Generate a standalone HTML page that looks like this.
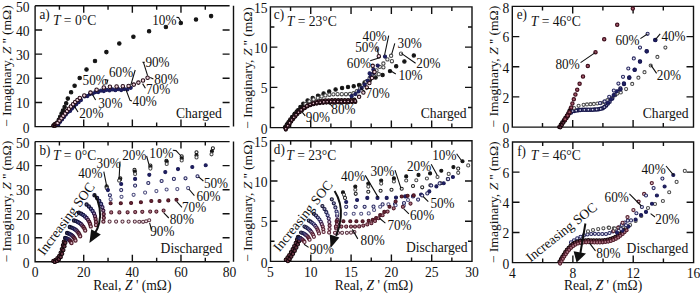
<!DOCTYPE html>
<html><head><meta charset="utf-8"><style>
html,body{margin:0;padding:0;background:#fff;}
svg{display:block;}
text{font-family:"Liberation Serif", serif;font-size:13.6px;fill:#111;}
text.s{font-size:13.2px;}
text.c{font-size:13.6px;}
</style></head><body>
<svg width="700" height="293" viewBox="0 0 700 293">
<rect width="700" height="293" fill="#fff"/>
<path d="M35.10,5.80H229.60M35.10,5.80V126.60H229.60M233.50,5.80V126.60M59.41,126.60v-4M59.41,5.80v4M83.72,126.60v-7M83.72,5.80v7M108.04,126.60v-4M108.04,5.80v4M132.35,126.60v-7M132.35,5.80v7M156.66,126.60v-4M156.66,5.80v4M180.97,126.60v-7M180.97,5.80v7M205.29,126.60v-4M205.29,5.80v4M35.10,102.44h7M229.60,102.44h-7M35.10,78.28h7M229.60,78.28h-7M35.10,54.12h7M229.60,54.12h-7M35.10,29.96h7M229.60,29.96h-7" fill="none" stroke="#111" stroke-width="1.4"/>
<text transform="translate(29.60,132.70) scale(1,1.08)" text-anchor="end">0</text>
<text transform="translate(29.60,108.24) scale(1,1.08)" text-anchor="end">10</text>
<text transform="translate(29.60,84.08) scale(1,1.08)" text-anchor="end">20</text>
<text transform="translate(29.60,59.92) scale(1,1.08)" text-anchor="end">30</text>
<text transform="translate(29.60,35.76) scale(1,1.08)" text-anchor="end">40</text>
<text transform="translate(29.60,12.10) scale(1,1.08)" text-anchor="end">50</text>
<text transform="translate(11.30,66.20) rotate(-90) scale(1,0.93)" text-anchor="middle">&#8722; Imaginary, <tspan font-style="italic">Z</tspan> '' (m&#937;)</text>
<path d="M35.10,141.60H229.60M35.10,141.60V261.80H229.60M233.50,141.60V261.80M59.41,261.80v-4M59.41,141.60v4M83.72,261.80v-7M83.72,141.60v7M108.04,261.80v-4M108.04,141.60v4M132.35,261.80v-7M132.35,141.60v7M156.66,261.80v-4M156.66,141.60v4M180.97,261.80v-7M180.97,141.60v7M205.29,261.80v-4M205.29,141.60v4M35.10,237.76h7M229.60,237.76h-7M35.10,213.72h7M229.60,213.72h-7M35.10,189.68h7M229.60,189.68h-7M35.10,165.64h7M229.60,165.64h-7" fill="none" stroke="#111" stroke-width="1.4"/>
<text transform="translate(29.60,267.90) scale(1,1.08)" text-anchor="end">0</text>
<text transform="translate(29.60,243.56) scale(1,1.08)" text-anchor="end">10</text>
<text transform="translate(29.60,219.52) scale(1,1.08)" text-anchor="end">20</text>
<text transform="translate(29.60,195.48) scale(1,1.08)" text-anchor="end">30</text>
<text transform="translate(29.60,171.44) scale(1,1.08)" text-anchor="end">40</text>
<text transform="translate(29.60,147.90) scale(1,1.08)" text-anchor="end">50</text>
<text transform="translate(35.10,277.00) scale(1,1.08)" text-anchor="middle">0</text>
<text transform="translate(83.72,277.00) scale(1,1.08)" text-anchor="middle">20</text>
<text transform="translate(132.35,277.00) scale(1,1.08)" text-anchor="middle">40</text>
<text transform="translate(180.97,277.00) scale(1,1.08)" text-anchor="middle">60</text>
<text transform="translate(229.60,277.00) scale(1,1.08)" text-anchor="middle">80</text>
<text x="132.35" y="289.5" text-anchor="middle">Real, <tspan font-style="italic">Z</tspan> ' (m&#937;)</text>
<text transform="translate(11.30,201.70) rotate(-90) scale(1,0.93)" text-anchor="middle">&#8722; Imaginary, <tspan font-style="italic">Z</tspan> '' (m&#937;)</text>
<path d="M270.40,6.90H472.00V127.60H270.40ZM290.56,127.60v-4M290.56,6.90v4M310.72,127.60v-7M310.72,6.90v7M330.88,127.60v-4M330.88,6.90v4M351.04,127.60v-7M351.04,6.90v7M371.20,127.60v-4M371.20,6.90v4M391.36,127.60v-7M391.36,6.90v7M411.52,127.60v-4M411.52,6.90v4M431.68,127.60v-7M431.68,6.90v7M451.84,127.60v-4M451.84,6.90v4M270.40,107.48h4M472.00,107.48h-4M270.40,87.37h7M472.00,87.37h-7M270.40,67.25h4M472.00,67.25h-4M270.40,47.13h7M472.00,47.13h-7M270.40,27.02h4M472.00,27.02h-4" fill="none" stroke="#111" stroke-width="1.4"/>
<text transform="translate(267.60,133.70) scale(1,1.08)" text-anchor="end">0</text>
<text transform="translate(267.60,93.17) scale(1,1.08)" text-anchor="end">5</text>
<text transform="translate(267.60,52.93) scale(1,1.08)" text-anchor="end">10</text>
<text transform="translate(267.60,13.20) scale(1,1.08)" text-anchor="end">15</text>
<text transform="translate(251.50,68.05) rotate(-90) scale(1,0.93)" text-anchor="middle">&#8722; Imaginary, <tspan font-style="italic">Z</tspan> '' (m&#937;)</text>
<path d="M270.50,140.80H472.00V261.40H270.50ZM290.65,261.40v-4M290.65,140.80v4M310.80,261.40v-7M310.80,140.80v7M330.95,261.40v-4M330.95,140.80v4M351.10,261.40v-7M351.10,140.80v7M371.25,261.40v-4M371.25,140.80v4M391.40,261.40v-7M391.40,140.80v7M411.55,261.40v-4M411.55,140.80v4M431.70,261.40v-7M431.70,140.80v7M451.85,261.40v-4M451.85,140.80v4M270.50,241.30h4M472.00,241.30h-4M270.50,221.20h7M472.00,221.20h-7M270.50,201.10h4M472.00,201.10h-4M270.50,181.00h7M472.00,181.00h-7M270.50,160.90h4M472.00,160.90h-4" fill="none" stroke="#111" stroke-width="1.4"/>
<text transform="translate(267.60,267.50) scale(1,1.08)" text-anchor="end">0</text>
<text transform="translate(267.60,227.00) scale(1,1.08)" text-anchor="end">5</text>
<text transform="translate(267.60,186.80) scale(1,1.08)" text-anchor="end">10</text>
<text transform="translate(267.60,147.10) scale(1,1.08)" text-anchor="end">15</text>
<text transform="translate(270.50,276.60) scale(1,1.08)" text-anchor="middle">5</text>
<text transform="translate(310.80,276.60) scale(1,1.08)" text-anchor="middle">10</text>
<text transform="translate(351.10,276.60) scale(1,1.08)" text-anchor="middle">15</text>
<text transform="translate(391.40,276.60) scale(1,1.08)" text-anchor="middle">20</text>
<text transform="translate(431.70,276.60) scale(1,1.08)" text-anchor="middle">25</text>
<text transform="translate(472.00,276.60) scale(1,1.08)" text-anchor="middle">30</text>
<text x="373.85" y="289.5" text-anchor="middle">Real, <tspan font-style="italic">Z</tspan> ' (m&#937;)</text>
<text transform="translate(251.50,201.10) rotate(-90) scale(1,0.93)" text-anchor="middle">&#8722; Imaginary, <tspan font-style="italic">Z</tspan> '' (m&#937;)</text>
<path d="M512.30,6.40H693.50V127.10H512.30ZM542.50,127.10v-4M542.50,6.40v4M572.70,127.10v-7M572.70,6.40v7M602.90,127.10v-4M602.90,6.40v4M633.10,127.10v-7M633.10,6.40v7M663.30,127.10v-4M663.30,6.40v4M512.30,96.92h7M693.50,96.92h-7M512.30,66.75h7M693.50,66.75h-7M512.30,36.58h7M693.50,36.58h-7" fill="none" stroke="#111" stroke-width="1.4"/>
<text transform="translate(509.40,133.20) scale(1,1.08)" text-anchor="end">0</text>
<text transform="translate(509.40,102.72) scale(1,1.08)" text-anchor="end">2</text>
<text transform="translate(509.40,72.55) scale(1,1.08)" text-anchor="end">4</text>
<text transform="translate(509.40,42.38) scale(1,1.08)" text-anchor="end">6</text>
<text transform="translate(509.40,12.70) scale(1,1.08)" text-anchor="end">8</text>
<text transform="translate(497.70,66.75) rotate(-90) scale(1,0.93)" text-anchor="middle">&#8722; Imaginary, <tspan font-style="italic">Z</tspan> '' (m&#937;)</text>
<path d="M512.50,142.00H693.60V262.60H512.50ZM542.68,262.60v-4M542.68,142.00v4M572.87,262.60v-7M572.87,142.00v7M603.05,262.60v-4M603.05,142.00v4M633.23,262.60v-7M633.23,142.00v7M663.42,262.60v-4M663.42,142.00v4M512.50,232.45h7M693.60,232.45h-7M512.50,202.30h7M693.60,202.30h-7M512.50,172.15h7M693.60,172.15h-7" fill="none" stroke="#111" stroke-width="1.4"/>
<text transform="translate(509.40,268.70) scale(1,1.08)" text-anchor="end">0</text>
<text transform="translate(509.40,238.25) scale(1,1.08)" text-anchor="end">2</text>
<text transform="translate(509.40,208.10) scale(1,1.08)" text-anchor="end">4</text>
<text transform="translate(509.40,177.95) scale(1,1.08)" text-anchor="end">6</text>
<text transform="translate(509.40,148.30) scale(1,1.08)" text-anchor="end">8</text>
<text transform="translate(512.50,277.80) scale(1,1.08)" text-anchor="middle">4</text>
<text transform="translate(572.87,277.80) scale(1,1.08)" text-anchor="middle">8</text>
<text transform="translate(633.23,277.80) scale(1,1.08)" text-anchor="middle">12</text>
<text transform="translate(693.60,277.80) scale(1,1.08)" text-anchor="middle">16</text>
<text x="603.05" y="289.5" text-anchor="middle">Real, <tspan font-style="italic">Z</tspan> ' (m&#937;)</text>
<text transform="translate(497.70,202.30) rotate(-90) scale(1,0.93)" text-anchor="middle">&#8722; Imaginary, <tspan font-style="italic">Z</tspan> '' (m&#937;)</text>
<g fill="#141414" stroke="#141414" stroke-width="1.05"><circle cx="53.6" cy="125.4" r="1.75"/><circle cx="55.8" cy="124.6" r="1.75"/><circle cx="57.4" cy="122.6" r="1.75"/><circle cx="58.8" cy="119.8" r="1.75"/><circle cx="60.2" cy="116.8" r="1.75"/><circle cx="61.6" cy="113.6" r="1.75"/><circle cx="63.0" cy="110.4" r="1.75"/><circle cx="64.6" cy="107.0" r="1.75"/><circle cx="66.2" cy="103.2" r="1.75"/><circle cx="67.8" cy="98.6" r="1.75"/><circle cx="71.1" cy="92.2" r="1.75"/><circle cx="74.6" cy="85.7" r="1.75"/><circle cx="79.7" cy="78.0" r="1.75"/><circle cx="86.5" cy="69.5" r="1.75"/><circle cx="95.0" cy="61.0" r="1.75"/><circle cx="106.4" cy="52.1" r="1.75"/><circle cx="119.3" cy="43.5" r="1.75"/><circle cx="133.4" cy="36.7" r="1.75"/><circle cx="149.1" cy="31.2" r="1.75"/><circle cx="165.9" cy="26.9" r="1.75"/><circle cx="180.8" cy="23.0" r="1.75"/><circle cx="196.0" cy="19.5" r="1.75"/><circle cx="211.1" cy="16.1" r="1.75"/></g>
<g fill="#6a3444" stroke="#120408" stroke-width="1.05"><circle cx="53.4" cy="125.6" r="1.6"/><circle cx="55.0" cy="125.8" r="1.6"/><circle cx="56.6" cy="125.0" r="1.6"/><circle cx="54.6" cy="124.0" r="1.6"/><circle cx="56.2" cy="123.4" r="1.6"/></g>
<g fill="#1f1f66" stroke="#1a1a55" stroke-width="1.05"><circle cx="58.2" cy="124.2" r="1.6"/><circle cx="60.1" cy="121.8" r="1.6"/><circle cx="62.0" cy="119.4" r="1.6"/><circle cx="63.9" cy="117.0" r="1.6"/><circle cx="65.8" cy="114.6" r="1.6"/><circle cx="67.7" cy="112.3" r="1.6"/><circle cx="69.6" cy="109.9" r="1.6"/><circle cx="71.5" cy="107.6" r="1.6"/><circle cx="73.7" cy="105.4" r="1.6"/><circle cx="75.8" cy="103.2" r="1.6"/><circle cx="78.1" cy="101.2" r="1.6"/><circle cx="80.4" cy="99.2" r="1.6"/><circle cx="84.6" cy="96.4" r="1.6"/><circle cx="90.0" cy="94.0" r="1.6"/><circle cx="95.4" cy="92.0" r="1.6"/><circle cx="101.0" cy="90.6" r="1.6"/><circle cx="106.6" cy="89.8" r="1.6"/><circle cx="112.4" cy="89.4" r="1.6"/><circle cx="118.2" cy="89.2" r="1.6"/><circle cx="124.2" cy="89.0" r="1.6"/><circle cx="130.7" cy="87.8" r="1.6"/></g>
<g fill="#1f1f66" stroke="#1a1a55" stroke-width="1.05"><circle cx="70.0" cy="110.9" r="1.6"/><circle cx="71.9" cy="108.6" r="1.6"/><circle cx="74.1" cy="106.4" r="1.6"/><circle cx="76.2" cy="104.2" r="1.6"/><circle cx="78.5" cy="102.2" r="1.6"/><circle cx="80.8" cy="100.2" r="1.6"/><circle cx="87.4" cy="96.0" r="1.6"/><circle cx="92.8" cy="93.6" r="1.6"/><circle cx="98.2" cy="92.0" r="1.6"/><circle cx="103.8" cy="91.0" r="1.6"/><circle cx="109.5" cy="90.4" r="1.6"/><circle cx="115.3" cy="90.2" r="1.6"/><circle cx="121.2" cy="90.0" r="1.6"/><circle cx="127.4" cy="89.4" r="1.6"/></g>
<g fill="#f0d4de" stroke="#220a14" stroke-width="1.05"><circle cx="57.6" cy="123.0" r="1.75"/><circle cx="59.5" cy="120.6" r="1.75"/><circle cx="61.4" cy="118.2" r="1.75"/><circle cx="63.3" cy="115.8" r="1.75"/><circle cx="65.2" cy="113.4" r="1.75"/><circle cx="67.1" cy="111.1" r="1.75"/><circle cx="69.0" cy="108.7" r="1.75"/><circle cx="70.9" cy="106.4" r="1.75"/><circle cx="73.1" cy="104.2" r="1.75"/><circle cx="75.2" cy="102.0" r="1.75"/><circle cx="77.5" cy="100.0" r="1.75"/><circle cx="79.8" cy="98.0" r="1.75"/><circle cx="84.3" cy="95.4" r="1.75"/><circle cx="90.5" cy="92.6" r="1.75"/><circle cx="96.6" cy="89.8" r="1.75"/><circle cx="103.8" cy="87.4" r="1.75"/><circle cx="109.9" cy="86.8" r="1.75"/><circle cx="116.6" cy="86.4" r="1.75"/><circle cx="122.8" cy="86.2" r="1.75"/><circle cx="128.6" cy="86.0" r="1.75"/><circle cx="133.8" cy="84.6" r="1.75"/><circle cx="138.4" cy="82.6" r="1.75"/><circle cx="143.0" cy="80.4" r="1.75"/><circle cx="147.6" cy="77.8" r="1.75"/></g>
<g fill="#6a3444" stroke="#120408" stroke-width="1.05"><circle cx="284.9" cy="127.3" r="1.6"/><circle cx="286.7" cy="124.6" r="1.6"/><circle cx="288.5" cy="122.0" r="1.6"/><circle cx="290.3" cy="119.3" r="1.6"/><circle cx="292.3" cy="116.8" r="1.6"/><circle cx="294.4" cy="114.3" r="1.6"/><circle cx="296.5" cy="111.9" r="1.6"/><circle cx="298.9" cy="109.8" r="1.6"/><circle cx="301.4" cy="107.7" r="1.6"/><circle cx="304.0" cy="105.9" r="1.6"/><circle cx="306.7" cy="104.1" r="1.6"/><circle cx="309.7" cy="102.9" r="1.6"/><circle cx="312.7" cy="102.0" r="1.6"/><circle cx="315.9" cy="101.4" r="1.6"/><circle cx="319.1" cy="100.8" r="1.6"/><circle cx="322.3" cy="100.6" r="1.6"/><circle cx="325.5" cy="100.3" r="1.6"/><circle cx="328.7" cy="100.3" r="1.6"/><circle cx="331.9" cy="100.2" r="1.6"/><circle cx="335.1" cy="100.2" r="1.6"/><circle cx="338.3" cy="100.2" r="1.6"/><circle cx="341.5" cy="100.2" r="1.6"/><circle cx="344.8" cy="100.1" r="1.6"/><circle cx="348.0" cy="100.0" r="1.6"/><circle cx="351.2" cy="99.9" r="1.6"/><circle cx="354.4" cy="99.7" r="1.6"/></g>
<g fill="#6a3444" stroke="#120408" stroke-width="1.05"><circle cx="285.8" cy="129.5" r="1.6"/><circle cx="287.6" cy="126.8" r="1.6"/><circle cx="289.4" cy="124.2" r="1.6"/><circle cx="291.2" cy="121.5" r="1.6"/><circle cx="293.2" cy="119.0" r="1.6"/><circle cx="295.3" cy="116.5" r="1.6"/><circle cx="297.4" cy="114.1" r="1.6"/><circle cx="299.8" cy="112.0" r="1.6"/><circle cx="302.3" cy="109.9" r="1.6"/><circle cx="304.9" cy="108.1" r="1.6"/><circle cx="307.6" cy="106.3" r="1.6"/><circle cx="310.6" cy="105.1" r="1.6"/><circle cx="313.6" cy="104.2" r="1.6"/><circle cx="316.8" cy="103.6" r="1.6"/><circle cx="320.0" cy="103.0" r="1.6"/><circle cx="323.2" cy="102.8" r="1.6"/><circle cx="326.4" cy="102.5" r="1.6"/><circle cx="329.6" cy="102.5" r="1.6"/><circle cx="332.8" cy="102.4" r="1.6"/><circle cx="336.0" cy="102.4" r="1.6"/><circle cx="339.2" cy="102.4" r="1.6"/><circle cx="342.4" cy="102.4" r="1.6"/><circle cx="345.7" cy="102.3" r="1.6"/><circle cx="348.9" cy="102.2" r="1.6"/><circle cx="352.1" cy="102.1" r="1.6"/><circle cx="355.3" cy="101.9" r="1.6"/></g>
<g fill="#141414" stroke="#141414" stroke-width="1.05"><circle cx="285.6" cy="126.6" r="1.7"/><circle cx="287.6" cy="123.8" r="1.7"/><circle cx="289.8" cy="120.6" r="1.7"/><circle cx="292.2" cy="117.2" r="1.7"/><circle cx="294.8" cy="113.8" r="1.7"/><circle cx="297.6" cy="110.4" r="1.7"/><circle cx="300.4" cy="107.0" r="1.7"/><circle cx="303.3" cy="103.8" r="1.7"/><circle cx="307.6" cy="100.4" r="1.7"/><circle cx="312.7" cy="97.9" r="1.7"/><circle cx="318.0" cy="95.8" r="1.7"/><circle cx="323.6" cy="93.4" r="1.7"/><circle cx="329.2" cy="91.4" r="1.7"/><circle cx="335.6" cy="89.4" r="1.7"/><circle cx="342.1" cy="87.9" r="1.7"/><circle cx="348.0" cy="86.9" r="1.7"/><circle cx="353.7" cy="86.2" r="1.7"/><circle cx="359.1" cy="85.0" r="1.7"/><circle cx="364.6" cy="82.4" r="1.7"/><circle cx="369.9" cy="80.0" r="1.7"/><circle cx="375.6" cy="77.4" r="1.7"/><circle cx="382.6" cy="75.0" r="1.7"/><circle cx="390.0" cy="71.1" r="1.7"/><circle cx="396.2" cy="66.2" r="1.7"/><circle cx="404.4" cy="61.4" r="1.7"/><circle cx="413.8" cy="55.4" r="1.7"/></g>
<g fill="#ffffff" stroke="#4a4a4a" stroke-width="1.05"><circle cx="305.4" cy="104.0" r="1.65"/><circle cx="309.4" cy="101.4" r="1.65"/><circle cx="313.6" cy="99.4" r="1.65"/><circle cx="317.8" cy="97.8" r="1.65"/><circle cx="321.6" cy="96.4" r="1.65"/><circle cx="325.4" cy="95.4" r="1.65"/><circle cx="329.4" cy="94.7" r="1.65"/><circle cx="333.4" cy="94.3" r="1.65"/><circle cx="337.6" cy="94.2" r="1.65"/><circle cx="341.8" cy="94.2" r="1.65"/><circle cx="346.0" cy="94.2" r="1.65"/><circle cx="350.0" cy="94.0" r="1.65"/><circle cx="353.6" cy="93.2" r="1.65"/><circle cx="356.8" cy="91.2" r="1.65"/><circle cx="360.0" cy="88.4" r="1.65"/><circle cx="363.2" cy="85.2" r="1.65"/><circle cx="366.6" cy="81.4" r="1.65"/><circle cx="370.4" cy="77.8" r="1.65"/><circle cx="374.4" cy="74.4" r="1.65"/><circle cx="378.8" cy="74.2" r="1.65"/><circle cx="383.4" cy="67.3" r="1.65"/><circle cx="391.9" cy="61.2" r="1.65"/><circle cx="401.0" cy="53.7" r="1.65"/></g>
<g fill="#ffffff" stroke="#4a4a4a" stroke-width="1.05"><circle cx="366.0" cy="81.8" r="1.65"/><circle cx="369.6" cy="78.2" r="1.65"/><circle cx="373.0" cy="73.6" r="1.65"/><circle cx="376.5" cy="70.4" r="1.65"/><circle cx="379.8" cy="66.8" r="1.65"/><circle cx="383.4" cy="63.5" r="1.65"/><circle cx="387.4" cy="59.4" r="1.65"/><circle cx="391.1" cy="55.8" r="1.65"/></g>
<g fill="#1f1f66" stroke="#1a1a55" stroke-width="1.05"><circle cx="351.6" cy="96.2" r="1.6"/><circle cx="355.4" cy="94.0" r="1.6"/><circle cx="358.6" cy="91.4" r="1.6"/><circle cx="361.6" cy="88.2" r="1.6"/><circle cx="364.6" cy="84.6" r="1.6"/><circle cx="367.6" cy="80.8" r="1.6"/><circle cx="370.6" cy="76.8" r="1.6"/><circle cx="373.8" cy="72.8" r="1.6"/><circle cx="377.7" cy="65.5" r="1.6"/><circle cx="385.0" cy="56.6" r="1.6"/></g>
<g fill="#1f1f66" stroke="#1a1a55" stroke-width="1.05"><circle cx="369.6" cy="73.4" r="1.6"/><circle cx="373.4" cy="69.4" r="1.6"/></g>
<g fill="#ecc4d2" stroke="#1e0810" stroke-width="1.3"><circle cx="285.7" cy="128.7" r="1.45"/><circle cx="287.7" cy="125.8" r="1.45"/><circle cx="289.6" cy="122.9" r="1.45"/><circle cx="291.6" cy="120.0" r="1.45"/><circle cx="293.8" cy="117.3" r="1.45"/><circle cx="296.1" cy="114.7" r="1.45"/><circle cx="298.5" cy="112.2" r="1.45"/><circle cx="301.2" cy="109.9" r="1.45"/><circle cx="304.0" cy="107.8" r="1.45"/><circle cx="306.9" cy="105.9" r="1.45"/><circle cx="310.1" cy="104.5" r="1.45"/><circle cx="313.4" cy="103.4" r="1.45"/><circle cx="316.8" cy="102.8" r="1.45"/><circle cx="320.3" cy="102.2" r="1.45"/><circle cx="323.8" cy="101.9" r="1.45"/><circle cx="327.2" cy="101.7" r="1.45"/><circle cx="330.7" cy="101.6" r="1.45"/><circle cx="334.2" cy="101.6" r="1.45"/><circle cx="337.7" cy="101.6" r="1.45"/><circle cx="341.2" cy="101.6" r="1.45"/><circle cx="344.7" cy="101.5" r="1.45"/><circle cx="348.2" cy="101.5" r="1.45"/><circle cx="351.7" cy="101.3" r="1.45"/><circle cx="355.2" cy="101.1" r="1.45"/></g>
<g fill="#f0d4de" stroke="#220a14" stroke-width="1.05"><circle cx="359.1" cy="96.8" r="1.7"/><circle cx="363.4" cy="92.5" r="1.7"/><circle cx="366.8" cy="87.4" r="1.7"/><circle cx="369.4" cy="83.1" r="1.7"/><circle cx="371.9" cy="78.0" r="1.7"/><circle cx="374.5" cy="72.0" r="1.7"/><circle cx="372.7" cy="65.8" r="1.7"/><circle cx="378.8" cy="56.2" r="1.7"/></g>
<g fill="#6a3444" stroke="#120408" stroke-width="1.05"><circle cx="559.2" cy="127.0" r="1.6"/><circle cx="560.7" cy="124.7" r="1.6"/><circle cx="562.2" cy="122.4" r="1.6"/><circle cx="563.8" cy="120.2" r="1.6"/><circle cx="565.3" cy="117.9" r="1.6"/><circle cx="566.8" cy="115.7" r="1.6"/><circle cx="568.2" cy="113.3" r="1.6"/><circle cx="569.4" cy="110.9" r="1.6"/><circle cx="570.6" cy="108.4" r="1.6"/></g>
<g fill="#6a3444" stroke="#120408" stroke-width="1.05"><circle cx="560.4" cy="127.3" r="1.6"/><circle cx="561.9" cy="125.0" r="1.6"/><circle cx="563.4" cy="122.7" r="1.6"/><circle cx="565.0" cy="120.5" r="1.6"/><circle cx="566.5" cy="118.2" r="1.6"/><circle cx="568.0" cy="116.0" r="1.6"/><circle cx="569.4" cy="113.6" r="1.6"/><circle cx="570.6" cy="111.2" r="1.6"/><circle cx="571.8" cy="108.7" r="1.6"/></g>
<g fill="#d4d4ea" stroke="#15154a" stroke-width="1.35"><circle cx="571.0" cy="112.4" r="1.55"/><circle cx="574.1" cy="111.0" r="1.55"/><circle cx="578.2" cy="110.2" r="1.55"/><circle cx="582.3" cy="109.8" r="1.55"/><circle cx="586.4" cy="109.7" r="1.55"/><circle cx="590.5" cy="109.7" r="1.55"/><circle cx="594.6" cy="109.6" r="1.55"/><circle cx="598.6" cy="109.2" r="1.55"/><circle cx="602.7" cy="108.2" r="1.55"/><circle cx="606.2" cy="105.4" r="1.55"/><circle cx="609.6" cy="101.8" r="1.55"/><circle cx="612.3" cy="98.6" r="1.55"/><circle cx="615.0" cy="95.0" r="1.55"/><circle cx="617.6" cy="91.6" r="1.55"/><circle cx="620.4" cy="88.4" r="1.55"/><circle cx="624.0" cy="83.9" r="1.55"/><circle cx="629.2" cy="77.7" r="1.55"/><circle cx="634.7" cy="69.8" r="1.55"/><circle cx="640.0" cy="61.5" r="1.55"/><circle cx="646.7" cy="51.3" r="1.55"/><circle cx="655.3" cy="40.0" r="1.55"/></g>
<g fill="#d4d4ea" stroke="#15154a" stroke-width="1.35"><circle cx="572.6" cy="111.0" r="1.55"/><circle cx="576.2" cy="110.6" r="1.55"/><circle cx="580.2" cy="110.0" r="1.55"/><circle cx="584.4" cy="109.8" r="1.55"/><circle cx="588.4" cy="109.7" r="1.55"/><circle cx="592.6" cy="109.7" r="1.55"/><circle cx="596.6" cy="109.4" r="1.55"/><circle cx="600.7" cy="108.8" r="1.55"/><circle cx="604.4" cy="107.0" r="1.55"/><circle cx="607.9" cy="103.6" r="1.55"/></g>
<g fill="#ffffff" stroke="#4a4a4a" stroke-width="1.05"><circle cx="574.0" cy="108.0" r="1.55"/><circle cx="578.6" cy="105.8" r="1.55"/><circle cx="583.6" cy="104.8" r="1.55"/><circle cx="587.0" cy="104.4" r="1.55"/><circle cx="590.5" cy="104.2" r="1.55"/><circle cx="593.9" cy="103.9" r="1.55"/><circle cx="597.3" cy="103.5" r="1.55"/><circle cx="600.7" cy="103.2" r="1.55"/><circle cx="604.1" cy="102.1" r="1.55"/><circle cx="607.4" cy="100.2" r="1.55"/><circle cx="610.6" cy="98.0" r="1.55"/><circle cx="614.0" cy="95.6" r="1.55"/><circle cx="617.4" cy="93.6" r="1.55"/><circle cx="620.8" cy="92.4" r="1.55"/><circle cx="626.1" cy="89.1" r="1.55"/><circle cx="632.2" cy="83.9" r="1.55"/><circle cx="638.4" cy="77.7" r="1.55"/><circle cx="644.5" cy="72.2" r="1.55"/><circle cx="650.7" cy="65.5" r="1.55"/><circle cx="657.4" cy="56.9" r="1.55"/><circle cx="665.4" cy="47.6" r="1.55"/></g>
<g fill="#1f1f66" stroke="#1a1a55" stroke-width="1.05"><circle cx="608.0" cy="102.6" r="1.55"/><circle cx="610.9" cy="99.2" r="1.55"/><circle cx="613.6" cy="95.2" r="1.55"/><circle cx="616.4" cy="91.6" r="1.55"/><circle cx="620.5" cy="89.5" r="1.55"/><circle cx="623.9" cy="83.4" r="1.55"/><circle cx="629.4" cy="77.4" r="1.55"/><circle cx="634.6" cy="69.8" r="1.55"/><circle cx="640.0" cy="61.5" r="1.55"/><circle cx="646.7" cy="51.3" r="1.55"/><circle cx="655.3" cy="40.0" r="1.55"/></g>
<g fill="#e6e6f2" stroke="#25255e" stroke-width="1.05"><circle cx="600.0" cy="103.0" r="1.55"/><circle cx="604.6" cy="101.4" r="1.55"/><circle cx="609.2" cy="96.8" r="1.55"/><circle cx="613.8" cy="90.6" r="1.55"/><circle cx="618.4" cy="83.6" r="1.55"/><circle cx="623.0" cy="76.8" r="1.55"/><circle cx="628.3" cy="68.5" r="1.55"/><circle cx="633.8" cy="58.4" r="1.55"/><circle cx="640.0" cy="47.6" r="1.55"/><circle cx="647.6" cy="33.8" r="1.55"/></g>
<g fill="#a85a6c" stroke="#3e0e1c" stroke-width="1.2"><circle cx="565.2" cy="119.2" r="1.65"/><circle cx="567.6" cy="115.6" r="1.65"/><circle cx="569.5" cy="112.2" r="1.65"/><circle cx="571.2" cy="107.6" r="1.65"/><circle cx="572.4" cy="103.6" r="1.65"/><circle cx="573.8" cy="99.2" r="1.65"/><circle cx="575.4" cy="94.6" r="1.65"/><circle cx="577.2" cy="89.8" r="1.65"/><circle cx="579.6" cy="83.8" r="1.65"/><circle cx="583.0" cy="76.6" r="1.65"/><circle cx="587.8" cy="66.0" r="1.65"/><circle cx="595.5" cy="52.3" r="1.65"/><circle cx="604.2" cy="39.2" r="1.65"/><circle cx="617.2" cy="24.8" r="1.65"/><circle cx="632.8" cy="8.6" r="1.65"/></g>
<g fill="#6a3444" stroke="#120408" stroke-width="1.05"><circle cx="53.4" cy="260.9" r="1.7"/><circle cx="55.6" cy="259.9" r="1.7"/><circle cx="57.5" cy="258.3" r="1.7"/><circle cx="59.3" cy="255.9" r="1.7"/><circle cx="60.7" cy="252.7" r="1.7"/><circle cx="61.9" cy="249.1" r="1.7"/><circle cx="63.0" cy="245.3" r="1.7"/><circle cx="63.9" cy="241.7" r="1.7"/></g>
<g fill="#6a3444" stroke="#120408" stroke-width="1.05"><circle cx="54.8" cy="261.9" r="1.7"/><circle cx="57.0" cy="260.9" r="1.7"/><circle cx="58.9" cy="259.3" r="1.7"/><circle cx="60.7" cy="256.9" r="1.7"/><circle cx="62.1" cy="253.7" r="1.7"/><circle cx="63.3" cy="250.1" r="1.7"/><circle cx="64.4" cy="246.3" r="1.7"/><circle cx="65.3" cy="242.7" r="1.7"/></g>
<g fill="#50507a" stroke="#101028" stroke-width="1.25"><circle cx="65.1" cy="238.0" r="1.55"/><circle cx="67.1" cy="233.0" r="1.55"/><circle cx="69.8" cy="227.0" r="1.55"/><circle cx="74.0" cy="220.5" r="1.55"/><circle cx="78.9" cy="212.7" r="1.55"/><circle cx="86.6" cy="204.5" r="1.55"/><circle cx="94.5" cy="195.2" r="1.55"/></g>
<g fill="#5c5c8c" stroke="#121234" stroke-width="1.25"><circle cx="66.2" cy="238.3" r="1.55"/><circle cx="68.6" cy="233.5" r="1.55"/><circle cx="71.6" cy="227.6" r="1.55"/><circle cx="76.0" cy="221.1" r="1.55"/><circle cx="81.2" cy="213.7" r="1.55"/><circle cx="88.9" cy="206.5" r="1.55"/><circle cx="97.1" cy="198.0" r="1.55"/></g>
<g fill="#7070a4" stroke="#161644" stroke-width="1.25"><circle cx="67.2" cy="238.6" r="1.55"/><circle cx="69.9" cy="234.1" r="1.55"/><circle cx="73.3" cy="228.3" r="1.55"/><circle cx="77.8" cy="221.9" r="1.55"/><circle cx="83.2" cy="215.0" r="1.55"/><circle cx="90.9" cy="208.7" r="1.55"/><circle cx="99.3" cy="200.9" r="1.55"/></g>
<g fill="#9090bc" stroke="#1a1a50" stroke-width="1.25"><circle cx="68.1" cy="239.1" r="1.55"/><circle cx="71.2" cy="234.8" r="1.55"/><circle cx="74.8" cy="229.2" r="1.55"/><circle cx="79.4" cy="222.9" r="1.55"/><circle cx="85.0" cy="216.4" r="1.55"/><circle cx="92.6" cy="211.0" r="1.55"/><circle cx="101.1" cy="204.0" r="1.55"/></g>
<g fill="#a898c0" stroke="#281848" stroke-width="1.25"><circle cx="68.9" cy="239.7" r="1.55"/><circle cx="72.3" cy="235.7" r="1.55"/><circle cx="76.2" cy="230.2" r="1.55"/><circle cx="80.9" cy="224.0" r="1.55"/><circle cx="86.6" cy="218.0" r="1.55"/><circle cx="94.0" cy="213.5" r="1.55"/><circle cx="102.4" cy="207.2" r="1.55"/></g>
<g fill="#b890ac" stroke="#36183c" stroke-width="1.25"><circle cx="69.7" cy="240.3" r="1.55"/><circle cx="73.3" cy="236.7" r="1.55"/><circle cx="77.4" cy="231.5" r="1.55"/><circle cx="82.2" cy="225.4" r="1.55"/><circle cx="88.0" cy="219.8" r="1.55"/><circle cx="95.0" cy="216.2" r="1.55"/><circle cx="103.3" cy="210.6" r="1.55"/></g>
<g fill="#a86878" stroke="#44162c" stroke-width="1.25"><circle cx="70.4" cy="241.1" r="1.55"/><circle cx="74.1" cy="237.8" r="1.55"/><circle cx="78.5" cy="232.9" r="1.55"/><circle cx="83.4" cy="226.9" r="1.55"/><circle cx="89.2" cy="221.8" r="1.55"/><circle cx="95.6" cy="219.0" r="1.55"/><circle cx="103.7" cy="214.1" r="1.55"/></g>
<g fill="#b88898" stroke="#4c1828" stroke-width="1.25"><circle cx="71.0" cy="242.0" r="1.55"/><circle cx="74.9" cy="239.1" r="1.55"/><circle cx="79.4" cy="234.5" r="1.55"/><circle cx="84.4" cy="228.6" r="1.55"/><circle cx="90.1" cy="224.0" r="1.55"/><circle cx="96.0" cy="221.9" r="1.55"/><circle cx="103.8" cy="217.8" r="1.55"/></g>
<g fill="#dcbcc8" stroke="#562230" stroke-width="1.25"><circle cx="71.5" cy="243.0" r="1.55"/><circle cx="75.5" cy="240.5" r="1.55"/><circle cx="80.2" cy="236.2" r="1.55"/><circle cx="85.2" cy="230.5" r="1.55"/><circle cx="90.8" cy="226.4" r="1.55"/><circle cx="96.0" cy="225.0" r="1.55"/><circle cx="103.4" cy="221.6" r="1.55"/></g>
<g fill="#ffffff" stroke="#1e1e1e" stroke-width="1.05"><circle cx="106.6" cy="186.4" r="1.55"/><circle cx="120.3" cy="178.2" r="1.55"/><circle cx="134.5" cy="169.9" r="1.55"/><circle cx="150.4" cy="165.6" r="1.55"/><circle cx="166.4" cy="160.8" r="1.55"/><circle cx="181.7" cy="156.4" r="1.55"/><circle cx="196.5" cy="152.3" r="1.55"/><circle cx="212.9" cy="148.2" r="1.55"/></g>
<g fill="#141414" stroke="#141414" stroke-width="1.05"><circle cx="106.7" cy="187.2" r="1.55"/><circle cx="120.0" cy="179.4" r="1.55"/><circle cx="134.8" cy="171.6" r="1.55"/><circle cx="150.4" cy="167.0" r="1.55"/><circle cx="166.7" cy="161.8" r="1.55"/><circle cx="181.7" cy="158.4" r="1.55"/><circle cx="196.5" cy="155.3" r="1.55"/><circle cx="211.9" cy="151.2" r="1.55"/></g>
<g fill="#ffffff" stroke="#4a4a4a" stroke-width="1.05"><circle cx="106.8" cy="188.2" r="1.55"/><circle cx="119.1" cy="180.6" r="1.55"/><circle cx="135.1" cy="174.0" r="1.55"/><circle cx="150.4" cy="168.6" r="1.55"/><circle cx="166.7" cy="164.0" r="1.55"/><circle cx="181.7" cy="160.5" r="1.55"/><circle cx="196.5" cy="157.4" r="1.55"/><circle cx="211.5" cy="154.3" r="1.55"/></g>
<g fill="#1f1f66" stroke="#1a1a55" stroke-width="1.05"><circle cx="107.9" cy="190.1" r="1.55"/><circle cx="121.2" cy="184.0" r="1.55"/><circle cx="135.1" cy="178.9" r="1.55"/><circle cx="149.3" cy="174.8" r="1.55"/><circle cx="165.3" cy="172.1" r="1.55"/><circle cx="178.0" cy="169.1" r="1.55"/><circle cx="192.3" cy="167.0" r="1.55"/><circle cx="205.7" cy="165.2" r="1.55"/></g>
<g fill="#e6e6f2" stroke="#25255e" stroke-width="1.05"><circle cx="109.9" cy="195.2" r="1.55"/><circle cx="121.2" cy="190.1" r="1.55"/><circle cx="135.1" cy="185.6" r="1.55"/><circle cx="148.3" cy="183.0" r="1.55"/><circle cx="161.6" cy="181.0" r="1.55"/><circle cx="173.9" cy="178.9" r="1.55"/><circle cx="185.5" cy="178.3" r="1.55"/><circle cx="197.5" cy="176.2" r="1.55"/></g>
<g fill="#ffffff" stroke="#505080" stroke-width="1.05"><circle cx="110.6" cy="199.2" r="1.55"/><circle cx="121.5" cy="196.8" r="1.55"/><circle cx="133.6" cy="194.8" r="1.55"/><circle cx="145.1" cy="192.6" r="1.55"/><circle cx="156.4" cy="191.1" r="1.55"/><circle cx="166.6" cy="189.5" r="1.55"/><circle cx="177.3" cy="189.1" r="1.55"/><circle cx="188.1" cy="188.1" r="1.55"/></g>
<g fill="#6a2535" stroke="#45121f" stroke-width="1.05"><circle cx="110.6" cy="203.2" r="1.55"/><circle cx="120.8" cy="203.2" r="1.55"/><circle cx="131.1" cy="203.0" r="1.55"/><circle cx="140.9" cy="202.2" r="1.55"/><circle cx="151.3" cy="201.0" r="1.55"/><circle cx="159.5" cy="201.0" r="1.55"/><circle cx="168.3" cy="200.4" r="1.55"/><circle cx="176.5" cy="199.7" r="1.55"/></g>
<g fill="#b07888" stroke="#4e1a28" stroke-width="1.05"><circle cx="111.2" cy="212.4" r="1.55"/><circle cx="119.4" cy="212.4" r="1.55"/><circle cx="127.6" cy="212.3" r="1.55"/><circle cx="135.2" cy="212.1" r="1.55"/><circle cx="142.3" cy="211.8" r="1.55"/><circle cx="150.2" cy="211.6" r="1.55"/><circle cx="156.4" cy="211.6" r="1.55"/><circle cx="163.6" cy="210.6" r="1.55"/></g>
<g fill="#f6e8ee" stroke="#5a3442" stroke-width="1.05"><circle cx="109.6" cy="221.6" r="1.55"/><circle cx="116.1" cy="221.6" r="1.55"/><circle cx="122.5" cy="221.6" r="1.55"/><circle cx="128.6" cy="221.6" r="1.55"/><circle cx="134.8" cy="221.6" r="1.55"/><circle cx="139.3" cy="221.7" r="1.55"/><circle cx="143.1" cy="221.8" r="1.55"/><circle cx="146.1" cy="221.2" r="1.55"/><circle cx="149.2" cy="220.2" r="1.55"/></g>
<g fill="#6a3444" stroke="#120408" stroke-width="1.05"><circle cx="285.9" cy="259.7" r="1.7"/><circle cx="287.6" cy="257.5" r="1.7"/><circle cx="289.3" cy="255.1" r="1.7"/><circle cx="291.0" cy="252.3" r="1.7"/><circle cx="292.7" cy="249.3" r="1.7"/><circle cx="294.3" cy="246.1" r="1.7"/><circle cx="295.8" cy="242.9" r="1.7"/><circle cx="297.1" cy="239.7" r="1.7"/><circle cx="298.2" cy="236.9" r="1.7"/></g>
<g fill="#6a3444" stroke="#120408" stroke-width="1.05"><circle cx="287.9" cy="261.1" r="1.7"/><circle cx="289.6" cy="258.9" r="1.7"/><circle cx="291.3" cy="256.5" r="1.7"/><circle cx="293.0" cy="253.7" r="1.7"/><circle cx="294.7" cy="250.7" r="1.7"/><circle cx="296.3" cy="247.5" r="1.7"/><circle cx="297.8" cy="244.3" r="1.7"/><circle cx="299.1" cy="241.1" r="1.7"/><circle cx="300.2" cy="238.3" r="1.7"/></g>
<g fill="#9090b0" stroke="#141430" stroke-width="1.1"><circle cx="297.7" cy="237.7" r="1.55"/><circle cx="301.1" cy="232.5" r="1.55"/><circle cx="304.5" cy="226.6" r="1.55"/><circle cx="308.8" cy="220.6" r="1.55"/><circle cx="313.9" cy="213.8" r="1.55"/><circle cx="322.4" cy="206.1" r="1.55"/><circle cx="331.8" cy="199.3" r="1.55"/></g>
<g fill="#a0a0c4" stroke="#16163c" stroke-width="1.1"><circle cx="298.8" cy="237.9" r="1.55"/><circle cx="302.5" cy="233.0" r="1.55"/><circle cx="306.2" cy="227.4" r="1.55"/><circle cx="310.7" cy="221.7" r="1.55"/><circle cx="316.0" cy="215.6" r="1.55"/><circle cx="324.5" cy="209.1" r="1.55"/><circle cx="333.8" cy="203.3" r="1.55"/></g>
<g fill="#b4b4d4" stroke="#1a1a4a" stroke-width="1.1"><circle cx="299.7" cy="238.2" r="1.55"/><circle cx="303.8" cy="233.6" r="1.55"/><circle cx="307.7" cy="228.4" r="1.55"/><circle cx="312.4" cy="223.0" r="1.55"/><circle cx="317.8" cy="217.5" r="1.55"/><circle cx="326.3" cy="212.2" r="1.55"/><circle cx="335.4" cy="207.4" r="1.55"/></g>
<g fill="#c8c8e4" stroke="#20205a" stroke-width="1.1"><circle cx="300.7" cy="238.6" r="1.55"/><circle cx="305.0" cy="234.3" r="1.55"/><circle cx="309.1" cy="229.5" r="1.55"/><circle cx="313.9" cy="224.3" r="1.55"/><circle cx="319.4" cy="219.6" r="1.55"/><circle cx="327.6" cy="215.3" r="1.55"/><circle cx="336.5" cy="211.5" r="1.55"/></g>
<g fill="#d4cce4" stroke="#2e1e52" stroke-width="1.1"><circle cx="301.6" cy="239.1" r="1.55"/><circle cx="306.1" cy="235.2" r="1.55"/><circle cx="310.3" cy="230.7" r="1.55"/><circle cx="315.3" cy="225.9" r="1.55"/><circle cx="320.8" cy="221.8" r="1.55"/><circle cx="328.7" cy="218.6" r="1.55"/><circle cx="337.1" cy="215.7" r="1.55"/></g>
<g fill="#dcc8d8" stroke="#3c1c44" stroke-width="1.1"><circle cx="302.4" cy="239.6" r="1.55"/><circle cx="307.2" cy="236.1" r="1.55"/><circle cx="311.4" cy="232.0" r="1.55"/><circle cx="316.5" cy="227.5" r="1.55"/><circle cx="321.8" cy="224.2" r="1.55"/><circle cx="329.3" cy="222.0" r="1.55"/><circle cx="337.3" cy="219.9" r="1.55"/></g>
<g fill="#c89aa8" stroke="#4a1830" stroke-width="1.1"><circle cx="303.1" cy="240.3" r="1.55"/><circle cx="308.1" cy="237.2" r="1.55"/><circle cx="312.4" cy="233.5" r="1.55"/><circle cx="317.5" cy="229.4" r="1.55"/><circle cx="322.7" cy="226.6" r="1.55"/><circle cx="329.6" cy="225.4" r="1.55"/><circle cx="337.0" cy="224.2" r="1.55"/></g>
<g fill="#dcb8c4" stroke="#521a2c" stroke-width="1.1"><circle cx="303.9" cy="241.0" r="1.55"/><circle cx="308.9" cy="238.4" r="1.55"/><circle cx="313.2" cy="235.1" r="1.55"/><circle cx="318.3" cy="231.3" r="1.55"/><circle cx="323.3" cy="229.3" r="1.55"/><circle cx="329.5" cy="229.0" r="1.55"/><circle cx="336.2" cy="228.5" r="1.55"/></g>
<g fill="#f0dce4" stroke="#5c2636" stroke-width="1.1"><circle cx="304.5" cy="241.9" r="1.55"/><circle cx="309.6" cy="239.7" r="1.55"/><circle cx="313.9" cy="236.8" r="1.55"/><circle cx="319.0" cy="233.4" r="1.55"/><circle cx="323.6" cy="232.0" r="1.55"/><circle cx="329.1" cy="232.6" r="1.55"/><circle cx="335.0" cy="232.8" r="1.55"/></g>
<g fill="#141414" stroke="#141414" stroke-width="1.05"><circle cx="343.0" cy="192.4" r="1.55"/><circle cx="355.3" cy="186.6" r="1.55"/><circle cx="368.3" cy="183.6" r="1.55"/><circle cx="381.2" cy="180.5" r="1.55"/><circle cx="393.9" cy="178.4" r="1.55"/><circle cx="406.2" cy="176.4" r="1.55"/><circle cx="418.5" cy="174.9" r="1.55"/><circle cx="430.1" cy="173.4" r="1.55"/><circle cx="441.3" cy="170.7" r="1.55"/><circle cx="453.4" cy="167.1" r="1.55"/><circle cx="462.5" cy="161.2" r="1.55"/></g>
<g fill="#ffffff" stroke="#4a4a4a" stroke-width="1.05"><circle cx="344.0" cy="194.8" r="1.55"/><circle cx="355.3" cy="189.7" r="1.55"/><circle cx="368.3" cy="186.6" r="1.55"/><circle cx="381.2" cy="183.6" r="1.55"/><circle cx="393.9" cy="181.5" r="1.55"/><circle cx="406.2" cy="180.5" r="1.55"/><circle cx="416.3" cy="180.2" r="1.55"/><circle cx="426.9" cy="178.5" r="1.55"/><circle cx="437.5" cy="177.0" r="1.55"/><circle cx="448.7" cy="173.9" r="1.55"/><circle cx="458.2" cy="172.8" r="1.55"/><circle cx="468.2" cy="165.4" r="1.55"/></g>
<g fill="#ffffff" stroke="#1e1e1e" stroke-width="1.05"><circle cx="345.0" cy="197.9" r="1.55"/><circle cx="355.7" cy="193.8" r="1.55"/><circle cx="368.3" cy="191.7" r="1.55"/><circle cx="380.6" cy="190.7" r="1.55"/><circle cx="391.5" cy="189.7" r="1.55"/><circle cx="401.7" cy="188.7" r="1.55"/><circle cx="413.0" cy="186.0" r="1.55"/><circle cx="422.2" cy="187.3" r="1.55"/><circle cx="430.4" cy="185.2" r="1.55"/><circle cx="440.6" cy="183.2" r="1.55"/><circle cx="447.8" cy="179.1" r="1.55"/><circle cx="458.2" cy="168.6" r="1.55"/></g>
<g fill="#1f1f66" stroke="#1a1a55" stroke-width="1.05"><circle cx="346.2" cy="202.0" r="1.55"/><circle cx="357.1" cy="200.0" r="1.55"/><circle cx="367.3" cy="197.9" r="1.55"/><circle cx="377.5" cy="197.9" r="1.55"/><circle cx="386.7" cy="197.9" r="1.55"/><circle cx="396.0" cy="197.6" r="1.55"/><circle cx="405.2" cy="196.4" r="1.55"/><circle cx="413.2" cy="196.0" r="1.55"/><circle cx="421.1" cy="194.5" r="1.55"/><circle cx="429.3" cy="191.4" r="1.55"/><circle cx="436.4" cy="186.4" r="1.55"/><circle cx="443.7" cy="183.2" r="1.55"/><circle cx="452.9" cy="177.0" r="1.55"/></g>
<g fill="#e6e6f2" stroke="#25255e" stroke-width="1.05"><circle cx="346.2" cy="206.8" r="1.55"/><circle cx="355.7" cy="206.8" r="1.55"/><circle cx="364.6" cy="206.8" r="1.55"/><circle cx="373.5" cy="206.6" r="1.55"/><circle cx="382.6" cy="204.4" r="1.55"/><circle cx="395.0" cy="204.0" r="1.55"/><circle cx="404.0" cy="203.0" r="1.55"/><circle cx="413.0" cy="196.5" r="1.55"/><circle cx="418.1" cy="199.6" r="1.55"/><circle cx="422.2" cy="195.5" r="1.55"/><circle cx="427.3" cy="193.4" r="1.55"/><circle cx="431.2" cy="185.5" r="1.55"/><circle cx="439.6" cy="183.4" r="1.55"/><circle cx="448.1" cy="179.1" r="1.55"/></g>
<g fill="#ffffff" stroke="#505080" stroke-width="1.05"><circle cx="337.3" cy="213.7" r="1.55"/><circle cx="345.5" cy="213.7" r="1.55"/><circle cx="353.7" cy="213.7" r="1.55"/><circle cx="361.2" cy="213.7" r="1.55"/><circle cx="368.7" cy="213.4" r="1.55"/><circle cx="374.1" cy="210.0" r="1.55"/><circle cx="380.2" cy="206.7" r="1.55"/><circle cx="388.4" cy="204.2" r="1.55"/><circle cx="395.6" cy="205.2" r="1.55"/><circle cx="403.8" cy="205.7" r="1.55"/><circle cx="408.0" cy="200.0" r="1.55"/></g>
<g fill="#6a2535" stroke="#45121f" stroke-width="1.05"><circle cx="336.6" cy="221.2" r="1.55"/><circle cx="343.4" cy="221.2" r="1.55"/><circle cx="350.3" cy="221.2" r="1.55"/><circle cx="356.4" cy="221.2" r="1.55"/><circle cx="362.6" cy="221.2" r="1.55"/><circle cx="368.7" cy="220.8" r="1.55"/><circle cx="372.8" cy="219.8" r="1.55"/><circle cx="376.1" cy="218.0" r="1.55"/><circle cx="380.2" cy="215.0" r="1.55"/><circle cx="384.3" cy="211.9" r="1.55"/><circle cx="389.5" cy="206.7" r="1.55"/><circle cx="395.6" cy="201.6" r="1.55"/><circle cx="401.7" cy="196.5" r="1.55"/><circle cx="407.6" cy="195.8" r="1.55"/><circle cx="413.7" cy="195.4" r="1.55"/></g>
<g fill="#b07888" stroke="#4e1a28" stroke-width="1.05"><circle cx="335.9" cy="226.6" r="1.55"/><circle cx="341.4" cy="226.6" r="1.55"/><circle cx="346.2" cy="226.6" r="1.55"/><circle cx="351.0" cy="226.6" r="1.55"/><circle cx="355.0" cy="226.6" r="1.55"/><circle cx="359.2" cy="226.4" r="1.55"/><circle cx="363.3" cy="225.6" r="1.55"/><circle cx="367.3" cy="224.4" r="1.55"/><circle cx="371.4" cy="223.2" r="1.55"/><circle cx="375.0" cy="221.0" r="1.55"/><circle cx="378.6" cy="218.2" r="1.55"/><circle cx="382.6" cy="215.2" r="1.55"/><circle cx="387.6" cy="211.6" r="1.55"/><circle cx="393.7" cy="208.3" r="1.55"/><circle cx="402.9" cy="206.8" r="1.55"/><circle cx="410.5" cy="203.6" r="1.55"/></g>
<g fill="#f6e8ee" stroke="#5a3442" stroke-width="1.05"><circle cx="338.0" cy="232.8" r="1.55"/><circle cx="342.1" cy="232.8" r="1.55"/><circle cx="346.9" cy="232.8" r="1.55"/><circle cx="351.0" cy="232.6" r="1.55"/><circle cx="354.4" cy="232.0" r="1.55"/></g>
<g fill="#e6e6f2" stroke="#25255e" stroke-width="1.05"><circle cx="571.0" cy="242.4" r="1.55"/><circle cx="574.0" cy="240.2" r="1.55"/><circle cx="577.2" cy="238.4" r="1.55"/><circle cx="580.5" cy="236.8" r="1.55"/><circle cx="583.9" cy="235.4" r="1.55"/><circle cx="587.5" cy="234.4" r="1.55"/><circle cx="591.2" cy="234.0" r="1.55"/><circle cx="594.9" cy="233.8" r="1.55"/><circle cx="598.6" cy="234.0" r="1.55"/><circle cx="602.3" cy="234.0" r="1.55"/><circle cx="606.0" cy="234.0" r="1.55"/><circle cx="609.5" cy="233.0" r="1.55"/><circle cx="612.9" cy="231.5" r="1.55"/><circle cx="616.0" cy="229.6" r="1.55"/><circle cx="618.9" cy="227.3" r="1.55"/><circle cx="621.8" cy="224.9" r="1.55"/><circle cx="624.7" cy="222.6" r="1.55"/><circle cx="627.8" cy="220.6" r="1.55"/></g>
<g fill="#ffffff" stroke="#4a4a4a" stroke-width="1.05"><circle cx="588.0" cy="231.4" r="1.55"/><circle cx="593.0" cy="230.0" r="1.55"/><circle cx="598.2" cy="229.1" r="1.55"/><circle cx="603.4" cy="228.3" r="1.55"/><circle cx="608.6" cy="227.6" r="1.55"/><circle cx="613.8" cy="228.2" r="1.55"/><circle cx="619.0" cy="227.8" r="1.55"/></g>
<g fill="#6a3444" stroke="#120408" stroke-width="1.05"><circle cx="559.5" cy="261.6" r="1.6"/><circle cx="560.9" cy="259.2" r="1.6"/><circle cx="562.3" cy="256.8" r="1.6"/><circle cx="563.7" cy="254.5" r="1.6"/><circle cx="565.2" cy="252.2" r="1.6"/><circle cx="566.8" cy="249.9" r="1.6"/><circle cx="568.6" cy="247.8" r="1.6"/><circle cx="570.5" cy="245.8" r="1.6"/><circle cx="572.6" cy="244.1" r="1.6"/><circle cx="574.9" cy="242.6" r="1.6"/><circle cx="577.4" cy="241.5" r="1.6"/><circle cx="580.1" cy="240.8" r="1.6"/><circle cx="582.8" cy="240.4" r="1.6"/><circle cx="585.6" cy="240.3" r="1.6"/><circle cx="588.3" cy="240.2" r="1.6"/><circle cx="591.1" cy="240.3" r="1.6"/><circle cx="593.8" cy="240.4" r="1.6"/><circle cx="596.6" cy="240.4" r="1.6"/><circle cx="599.3" cy="240.4" r="1.6"/><circle cx="602.1" cy="240.3" r="1.6"/><circle cx="604.8" cy="240.0" r="1.6"/><circle cx="607.6" cy="239.6" r="1.6"/><circle cx="610.2" cy="238.9" r="1.6"/><circle cx="612.8" cy="238.0" r="1.6"/><circle cx="615.3" cy="236.8" r="1.6"/><circle cx="617.7" cy="235.4" r="1.6"/><circle cx="619.8" cy="233.7" r="1.6"/><circle cx="622.0" cy="232.0" r="1.6"/><circle cx="624.0" cy="230.1" r="1.6"/><circle cx="626.0" cy="228.2" r="1.6"/></g>
<g fill="#b07888" stroke="#4e1a28" stroke-width="1.05"><circle cx="560.1" cy="263.6" r="1.55"/><circle cx="561.5" cy="261.2" r="1.55"/><circle cx="562.9" cy="258.8" r="1.55"/><circle cx="564.3" cy="256.5" r="1.55"/><circle cx="565.8" cy="254.2" r="1.55"/><circle cx="567.4" cy="251.9" r="1.55"/><circle cx="569.2" cy="249.8" r="1.55"/><circle cx="571.1" cy="247.8" r="1.55"/><circle cx="573.2" cy="246.1" r="1.55"/><circle cx="575.5" cy="244.6" r="1.55"/><circle cx="578.0" cy="243.5" r="1.55"/><circle cx="580.7" cy="242.8" r="1.55"/><circle cx="583.4" cy="242.4" r="1.55"/><circle cx="586.2" cy="242.3" r="1.55"/><circle cx="588.9" cy="242.2" r="1.55"/><circle cx="591.7" cy="242.3" r="1.55"/><circle cx="594.4" cy="242.4" r="1.55"/><circle cx="597.2" cy="242.4" r="1.55"/><circle cx="599.9" cy="242.4" r="1.55"/><circle cx="602.7" cy="242.3" r="1.55"/><circle cx="605.4" cy="242.0" r="1.55"/><circle cx="608.2" cy="241.6" r="1.55"/><circle cx="610.8" cy="240.9" r="1.55"/><circle cx="613.4" cy="240.0" r="1.55"/><circle cx="615.9" cy="238.8" r="1.55"/><circle cx="618.3" cy="237.4" r="1.55"/><circle cx="620.4" cy="235.7" r="1.55"/><circle cx="622.6" cy="234.0" r="1.55"/><circle cx="624.6" cy="232.1" r="1.55"/><circle cx="626.6" cy="230.2" r="1.55"/></g>
<g fill="#e8ccd6" stroke="#55202e" stroke-width="1.15"><circle cx="613.5" cy="231.0" r="1.55"/><circle cx="618.2" cy="227.6" r="1.55"/><circle cx="622.6" cy="222.8" r="1.55"/><circle cx="627.5" cy="217.1" r="1.55"/><circle cx="633.4" cy="210.0" r="1.55"/><circle cx="638.6" cy="201.6" r="1.55"/><circle cx="644.1" cy="193.9" r="1.55"/><circle cx="651.8" cy="183.1" r="1.55"/></g>
<g fill="#ffffff" stroke="#4a4a4a" stroke-width="1.05"><circle cx="609.1" cy="227.8" r="1.55"/><circle cx="614.8" cy="228.6" r="1.55"/><circle cx="620.6" cy="228.0" r="1.55"/><circle cx="625.4" cy="226.6" r="1.55"/><circle cx="630.1" cy="225.0" r="1.55"/><circle cx="635.6" cy="221.0" r="1.55"/><circle cx="641.3" cy="216.0" r="1.55"/><circle cx="648.0" cy="208.0" r="1.55"/><circle cx="655.0" cy="204.0" r="1.55"/><circle cx="662.9" cy="201.0" r="1.55"/><circle cx="669.2" cy="192.2" r="1.55"/><circle cx="676.6" cy="181.9" r="1.55"/></g>
<g fill="#1f1f66" stroke="#1a1a55" stroke-width="1.05"><circle cx="617.0" cy="232.6" r="1.55"/><circle cx="622.5" cy="230.6" r="1.55"/><circle cx="628.5" cy="226.6" r="1.55"/><circle cx="635.6" cy="219.6" r="1.55"/><circle cx="641.0" cy="215.0" r="1.55"/><circle cx="646.0" cy="211.9" r="1.55"/><circle cx="652.0" cy="203.7" r="1.55"/><circle cx="656.9" cy="195.5" r="1.55"/><circle cx="664.6" cy="186.5" r="1.55"/><circle cx="673.3" cy="175.0" r="1.55"/></g>
<g fill="#e6e6f2" stroke="#25255e" stroke-width="1.05"><circle cx="621.0" cy="229.0" r="1.55"/><circle cx="626.0" cy="225.2" r="1.55"/><circle cx="631.0" cy="220.4" r="1.55"/><circle cx="636.4" cy="213.2" r="1.55"/><circle cx="641.9" cy="207.0" r="1.55"/><circle cx="646.0" cy="195.5" r="1.55"/><circle cx="653.6" cy="188.1" r="1.55"/><circle cx="662.4" cy="178.6" r="1.55"/></g>
<g fill="#ffffff" stroke="#4a4a4a" stroke-width="1.05"><circle cx="684.8" cy="170.9" r="1.55"/></g>
<path d="M176.4,17.2L178.6,17.6L180.8,21.6M142.4,62.2L144.8,62.2M143.4,62.2L147.6,75.6M150.2,77.6L153.4,79.0M142.6,83.6L145.4,88.2M135.2,70.0L130.8,85.2M105.0,79.6L107.8,80.2L106.6,84.4M126.0,89.8L130.0,100.4L132.0,101.0M92.5,94.6L95.6,100.0M74.0,105.6L78.0,112.0M172.8,150.2L176.0,150.6L181.0,156.0M146.6,156.0L149.0,164.6M120.0,161.5L119.1,178.6M103.8,171.6L106.8,186.6M198.6,176.8L203.4,181.0M188.8,189.0L194.4,195.6M176.8,201.6L182.0,207.4M163.8,212.8L168.8,218.0M149.6,222.8L151.4,229.4M388.7,35.6L384.6,55.0M376.6,47.0L378.4,54.0M394.8,43.4L391.7,54.2M370.2,60.8L380.4,57.6M395.8,74.0L389.7,70.2M401.4,53.4L415.6,63.2M360.4,87.6L364.8,91.8M329.2,103.0L332.2,106.4M302.2,112.2L305.2,115.8M456.6,153.8L461.6,160.8M431.2,164.3L437.4,175.6M395.0,170.2L401.0,188.4M365.2,175.4L378.4,197.6M423.2,196.5L428.3,201.6M403.8,208.8L408.9,213.9M379.2,218.0L385.4,223.1M352.3,229.4L357.8,238.9M304.0,244.2L308.6,247.4M580.6,62.6L595.2,52.6M640.4,38.6L647.4,34.0M660.2,33.8L655.4,39.6M650.6,64.6L656.6,73.4M666.0,166.0L673.6,175.2M629.4,193.8L641.4,206.0M650.6,213.6L655.0,217.0M589.3,242.8L595.5,250.8" fill="none" stroke="#111" stroke-width="1.1"/>
<text class="s" transform="translate(152.2,24.9) scale(1,1.08)">10%</text>
<text class="s" transform="translate(145.4,66.7) scale(1,1.08)">90%</text>
<text class="s" transform="translate(154.2,84.1) scale(1,1.08)">80%</text>
<text class="s" transform="translate(146.0,94.3) scale(1,1.08)">70%</text>
<text class="s" transform="translate(109.0,76.9) scale(1,1.08)">60%</text>
<text class="s" transform="translate(82.6,85.1) scale(1,1.08)">50%</text>
<text class="s" transform="translate(132.6,105.6) scale(1,1.08)">40%</text>
<text class="s" transform="translate(98.2,107.5) scale(1,1.08)">30%</text>
<text class="s" transform="translate(79.2,117.6) scale(1,1.08)">20%</text>
<text class="s" transform="translate(149.3,157.8) scale(1,1.08)">10%</text>
<text class="s" transform="translate(122.2,159.9) scale(1,1.08)">20%</text>
<text class="s" transform="translate(96.6,168.1) scale(1,1.08)">30%</text>
<text class="s" transform="translate(78.2,178.3) scale(1,1.08)">40%</text>
<text class="s" transform="translate(203.9,187.5) scale(1,1.08)">50%</text>
<text class="s" transform="translate(196.4,201.3) scale(1,1.08)">60%</text>
<text class="s" transform="translate(182.0,212.1) scale(1,1.08)">70%</text>
<text class="s" transform="translate(169.7,224.4) scale(1,1.08)">80%</text>
<text class="s" transform="translate(150.2,235.7) scale(1,1.08)">90%</text>
<text class="s" transform="translate(362.6,40.7) scale(1,1.08)">40%</text>
<text class="s" transform="translate(355.2,52.1) scale(1,1.08)">50%</text>
<text class="s" transform="translate(346.8,67.5) scale(1,1.08)">60%</text>
<text class="s" transform="translate(397.6,48.3) scale(1,1.08)">30%</text>
<text class="s" transform="translate(416.3,67.9) scale(1,1.08)">20%</text>
<text class="s" transform="translate(398.4,79.9) scale(1,1.08)">10%</text>
<text class="s" transform="translate(365.6,98.3) scale(1,1.08)">70%</text>
<text class="s" transform="translate(331.3,113.7) scale(1,1.08)">80%</text>
<text class="s" transform="translate(305.8,121.7) scale(1,1.08)">90%</text>
<text class="s" transform="translate(432.2,159.5) scale(1,1.08)">10%</text>
<text class="s" transform="translate(407.0,171.2) scale(1,1.08)">20%</text>
<text class="s" transform="translate(370.4,175.9) scale(1,1.08)">30%</text>
<text class="s" transform="translate(341.0,181.1) scale(1,1.08)">40%</text>
<text class="s" transform="translate(430.4,208.3) scale(1,1.08)">50%</text>
<text class="s" transform="translate(410.0,219.5) scale(1,1.08)">60%</text>
<text class="s" transform="translate(387.4,229.8) scale(1,1.08)">70%</text>
<text class="s" transform="translate(360.6,244.7) scale(1,1.08)">80%</text>
<text class="s" transform="translate(309.7,253.9) scale(1,1.08)">90%</text>
<text class="s" transform="translate(555.5,68.9) scale(1,1.08)">80%</text>
<text class="s" transform="translate(615.4,45.1) scale(1,1.08)">60%</text>
<text class="s" transform="translate(661.4,40.5) scale(1,1.08)">40%</text>
<text class="s" transform="translate(656.8,80.4) scale(1,1.08)">20%</text>
<text class="s" transform="translate(641.5,174.3) scale(1,1.08)">40%</text>
<text class="s" transform="translate(604.6,202.0) scale(1,1.08)">60%</text>
<text class="s" transform="translate(655.3,223.5) scale(1,1.08)">20%</text>
<text class="s" transform="translate(596.3,257.5) scale(1,1.08)">80%</text>
<text class="s" transform="translate(39.4,18.6) scale(1,1.08)">a)</text>
<text transform="translate(52.9,25.0) scale(1,1.08)"><tspan font-style="italic">T</tspan> = 0&#176;C</text>
<text class="s" transform="translate(39.4,155.0) scale(1,1.08)">b)</text>
<text transform="translate(52.9,159.8) scale(1,1.08)"><tspan font-style="italic">T</tspan> = 0&#176;C</text>
<text class="s" transform="translate(273.8,18.6) scale(1,1.08)">c)</text>
<text transform="translate(286.7,25.5) scale(1,1.08)"><tspan font-style="italic">T</tspan> = 23&#176;C</text>
<text class="s" transform="translate(273.8,154.2) scale(1,1.08)">d)</text>
<text transform="translate(286.2,160.0) scale(1,1.08)"><tspan font-style="italic">T</tspan> = 23&#176;C</text>
<text class="s" transform="translate(516.7,19.4) scale(1,1.08)">e)</text>
<text transform="translate(530.7,25.5) scale(1,1.08)"><tspan font-style="italic">T</tspan> = 46&#176;C</text>
<text class="s" transform="translate(517.2,155.6) scale(1,1.08)">f)</text>
<text transform="translate(530.7,159.8) scale(1,1.08)"><tspan font-style="italic">T</tspan> = 46&#176;C</text>
<text class="c" transform="translate(221.8,118.4) scale(1,1.08)" text-anchor="end">Charged</text>
<text class="c" transform="translate(466.6,118.4) scale(1,1.08)" text-anchor="end">Charged</text>
<text class="c" transform="translate(688.6,118.3) scale(1,1.08)" text-anchor="end">Charged</text>
<text class="c" transform="translate(222.2,253.4) scale(1,1.08)" text-anchor="end">Discharged</text>
<text class="c" transform="translate(467.6,251.7) scale(1,1.08)" text-anchor="end">Discharged</text>
<text class="c" transform="translate(688.2,253.4) scale(1,1.08)" text-anchor="end">Discharged</text>
<text transform="translate(44.0,256.2) rotate(-53.5)">Increasing SOC</text>
<text transform="translate(279.4,252.6) rotate(-51.3)">Increasing SOC</text>
<text transform="translate(530.4,262.6) rotate(-38.4)">Increasing SOC</text>
<path d="M94.5,194.2 C99.6,202.2 101.4,213.6 99.2,223.0 C98.2,227.2 96.6,230.6 95.0,233.0" fill="none" stroke="#111" stroke-width="2"/>
<polygon points="89.4,243.0 91.2,229.2 100.8,234.6" fill="#111"/>
<path d="M334.6,191.0 C339.0,198.0 341.6,208.0 340.8,217.0 C340.2,224.0 338.6,230.0 336.2,236.0" fill="none" stroke="#111" stroke-width="2"/>
<polygon points="330.6,248.0 329.8,234.6 339.4,237.6" fill="#111"/>
<path d="M585.4,223.5 L580.4,253.0" fill="none" stroke="#111" stroke-width="2"/>
<polygon points="576.6,262.6 573.6,251.2 586.0,253.6" fill="#111"/>
</svg>
</body></html>
